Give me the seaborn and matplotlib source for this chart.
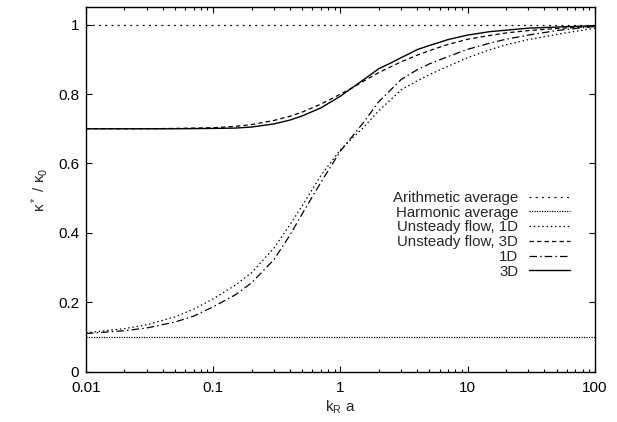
import numpy as np
import pandas as pd
import matplotlib
matplotlib.use("Agg")
import matplotlib.pyplot as plt
import seaborn as sns

# ── Data ─────────────────────────────────────────────────────────────────────
ARITH_AVG = 1.0
HARM_AVG  = 0.1

K_1D = [0.01, 0.02, 0.03, 0.05, 0.07, 0.1, 0.15, 0.2, 0.3, 0.4, 0.5, 0.7,
        1, 1.5, 2, 3, 4, 5, 7, 10, 15, 20, 30, 50, 100]
UNSTEADY_1D = [0.112, 0.124, 0.135, 0.158, 0.180, 0.210, 0.250, 0.285, 0.356,
               0.423, 0.478, 0.565, 0.640, 0.702, 0.752, 0.812, 0.838, 0.856,
               0.880, 0.905, 0.928, 0.942, 0.957, 0.972, 0.990]
ONE_D = [0.110, 0.118, 0.126, 0.143, 0.160, 0.187, 0.222, 0.256, 0.323,
         0.393, 0.455, 0.545, 0.636, 0.716, 0.778, 0.842, 0.870, 0.887,
         0.908, 0.929, 0.947, 0.958, 0.970, 0.983, 0.995]

K_3D = [0.01, 0.03, 0.05, 0.1, 0.15, 0.2, 0.3, 0.4, 0.5, 0.7, 1, 1.2, 1.5, 2,
        2.5, 3, 3.5, 4, 5, 6, 7, 10, 15, 20, 30, 50, 100]
UNSTEADY_3D = [0.700, 0.700, 0.701, 0.703, 0.707, 0.712, 0.724, 0.736, 0.748,
               0.771, 0.800, 0.815, 0.836, 0.862, 0.879, 0.893, 0.903, 0.912,
               0.925, 0.935, 0.943, 0.958, 0.969, 0.976, 0.983, 0.989, 0.995]
THREE_D = [0.700, 0.700, 0.700, 0.701, 0.702, 0.705, 0.714, 0.725, 0.737,
           0.760, 0.794, 0.815, 0.840, 0.873, 0.890, 0.905, 0.917, 0.928,
           0.940, 0.949, 0.957, 0.970, 0.980, 0.984, 0.990, 0.993, 0.997]

X_TICKS = [0.01, 0.1, 1, 10, 100]
X_TICKLABELS = ["0.01", "0.1", "1", "10", "100"]
Y_TICKS = [0, 0.2, 0.4, 0.6, 0.8, 1]
Y_TICKLABELS = ["0", "0.2", "0.4", "0.6", "0.8", "1"]

# ── Style ────────────────────────────────────────────────────────────────────
sns.set_style("ticks")
plt.rcParams["font.family"] = ["Liberation Sans", "DejaVu Sans"]
plt.rcParams["font.size"] = 11
plt.rcParams["mathtext.fontset"] = "custom"
plt.rcParams["mathtext.rm"] = "Liberation Sans"
plt.rcParams["mathtext.default"] = "regular"

fig, ax = plt.subplots(figsize=(6.17, 4.22), dpi=100)
fig.subplots_adjust(left=0.1394, right=0.9643, top=0.9827, bottom=0.1192)

lw = 0.9
ax.axhline(ARITH_AVG, color="black", lw=lw, ls=(0, (1.5, 3.5)), label="Arithmetic average")
ax.axhline(HARM_AVG, color="black", lw=lw, ls=(0, (1, 1)), label="Harmonic average")

sns.lineplot(x=K_1D, y=UNSTEADY_1D, ax=ax, color="black", lw=lw,
             ls=(0, (1.2, 2.2)), label="Unsteady flow, 1D")
sns.lineplot(x=K_3D, y=UNSTEADY_3D, ax=ax, color="black", lw=lw,
             ls=(0, (3.5, 2.5)), label="Unsteady flow, 3D")
sns.lineplot(x=K_1D, y=ONE_D, ax=ax, color="black", lw=lw,
             ls=(0, (6, 2.5, 1.2, 2.5)), label="1D")
sns.lineplot(x=K_3D, y=THREE_D, ax=ax, color="black", lw=1.0,
             ls="-", label="3D")

ax.set_xscale("log")
ax.set_xlim(0.01, 100)
ax.set_ylim(0, 1.05)
ax.set_xticks(X_TICKS)
ax.set_xticklabels(X_TICKLABELS)
ax.set_yticks(Y_TICKS)
ax.set_yticklabels(Y_TICKLABELS)
ax.tick_params(which="both", direction="in", top=True, right=True, colors="black")
ax.tick_params(which="major", length=4, width=0.8)
ax.tick_params(axis="x", which="major", pad=6.5)
ax.tick_params(axis="y", which="major", pad=5)
ax.tick_params(which="minor", length=2, width=0.8)
for sp in ax.spines.values():
    sp.set_color("black")
    sp.set_linewidth(1.0)

ax.set_xlabel("k$_R$ a", labelpad=3)
ax.set_ylabel("κ$^*$ / κ$_0$", labelpad=6)

ax.legend(loc="upper right", bbox_to_anchor=(0.951, 0.496), frameon=False,
          markerfirst=False, borderpad=0, handlelength=2.75, handletextpad=0.7,
          labelspacing=0.05, borderaxespad=0, fontsize=10.8)

plt.savefig("out.png", dpi=100, facecolor="white")
